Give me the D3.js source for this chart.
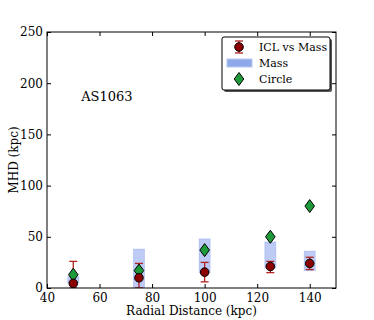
<!DOCTYPE html>
<html>
<head>
<meta charset="utf-8">
<script src="https://cdn.jsdelivr.net/npm/d3@7"></script>
<style>
  body { margin: 0; background: #fff; }
  svg text { font-family: "DejaVu Serif", serif; fill: #000; }
</style>
</head>
<body>
<div id="chart"></div>
<script>
// radial distance of each bin (kpc)
var radius = [50, 75, 100, 125, 140];
// ICL vs Mass: value and error bar ends
var iclValue = [4.5, 10, 15.5, 21, 24];
var iclLow = [0, 0, 6, 15, 18];
var iclHigh = [26, 24, 25, 26, 30];
// Mass: range shown as a box
var massLow = [5, 0, 15, 19.5, 17];
var massHigh = [11, 38, 48, 45, 36];
// Circle
var circleValue = [13, 17, 37, 50, 80];

var xTicks = [40, 60, 80, 100, 120, 140];
var yTicks = [0, 50, 100, 150, 200, 250];

var margin = {top: 32, right: 38, bottom: 32, left: 47};
var totalW = 374, totalH = 320;
var width = totalW - margin.left - margin.right;
var height = totalH - margin.top - margin.bottom;

var x = d3.scaleLinear().domain([40, 150]).range([0, width]);
var y = d3.scaleLinear().domain([0, 250]).range([height, 0]);

var svg = d3.select("#chart").append("svg")
    .attr("width", totalW)
    .attr("height", totalH)
  .append("g")
    .attr("transform", "translate(" + margin.left + "," + margin.top + ")");

// clip marks to the axes box
svg.append("clipPath").attr("id", "clip")
  .append("rect").attr("width", width).attr("height", height);

var plot = svg.append("g").attr("clip-path", "url(#clip)");

// mass boxes
plot.selectAll(".mass")
    .data(radius)
    .enter().append("rect")
    .attr("class", "mass")
    .attr("x", function(d) { return x(d - 2.1); })
    .attr("width", function(d) { return x(d + 2.1) - x(d - 2.1); })
    .attr("y", function(d, i) { return y(massHigh[i]); })
    .attr("height", function(d, i) { return y(massLow[i]) - y(massHigh[i]); })
    .attr("fill", "#4169e1")
    .attr("fill-opacity", 0.35)
    .attr("stroke", "#4169e1")
    .attr("stroke-opacity", 0.2)
    .attr("stroke-width", 1);

// ICL error bars
var errColor = "#b22222";
var err = plot.selectAll(".err")
    .data(radius)
    .enter().append("g")
    .attr("class", "err");

err.append("line")
    .attr("x1", function(d) { return x(d); })
    .attr("x2", function(d) { return x(d); })
    .attr("y1", function(d, i) { return y(iclLow[i]); })
    .attr("y2", function(d, i) { return y(iclHigh[i]); })
    .attr("stroke", errColor).attr("stroke-width", 1.3);

err.append("line")
    .attr("x1", function(d) { return x(d) - 4; })
    .attr("x2", function(d) { return x(d) + 4; })
    .attr("y1", function(d, i) { return y(iclHigh[i]); })
    .attr("y2", function(d, i) { return y(iclHigh[i]); })
    .attr("stroke", errColor).attr("stroke-width", 1.3);

err.append("line")
    .attr("x1", function(d) { return x(d) - 4; })
    .attr("x2", function(d) { return x(d) + 4; })
    .attr("y1", function(d, i) { return y(iclLow[i]); })
    .attr("y2", function(d, i) { return y(iclLow[i]); })
    .attr("stroke", errColor).attr("stroke-width", 1.3);

// diamond path helper
function diamond(cx, cy) {
  return "M" + cx + "," + (cy - 6.5) + "L" + (cx + 4.8) + "," + cy +
         "L" + cx + "," + (cy + 6.5) + "L" + (cx - 4.8) + "," + cy + "Z";
}

// circle markers (green diamonds)
svg.selectAll(".circ")
    .data(radius)
    .enter().append("path")
    .attr("class", "circ")
    .attr("d", function(d, i) { return diamond(x(d), y(circleValue[i])); })
    .attr("fill", "#1f9a3a")
    .attr("stroke", "#000")
    .attr("stroke-width", 1);

// ICL points
svg.selectAll(".icl")
    .data(radius)
    .enter().append("circle")
    .attr("class", "icl")
    .attr("cx", function(d) { return x(d); })
    .attr("cy", function(d, i) { return y(iclValue[i]); })
    .attr("r", 4.3)
    .attr("fill", "#8b0000")
    .attr("stroke", "#000")
    .attr("stroke-width", 1);

// axes, matplotlib classic style: inward ticks on all sides
function styleAxis(g) {
  g.select(".domain").remove();
  g.selectAll(".tick line").attr("stroke", "#000");
  g.selectAll(".tick text").style("font-size", "12px");
}

svg.append("g")
    .attr("transform", "translate(0," + height + ")")
    .call(d3.axisBottom(x).tickValues(xTicks).tickSize(-4).tickPadding(5))
    .call(styleAxis);

svg.append("g")
    .call(d3.axisTop(x).tickValues(xTicks).tickSize(-4).tickFormat(""))
    .call(styleAxis);

svg.append("g")
    .call(d3.axisLeft(y).tickValues(yTicks).tickSize(-4).tickPadding(4))
    .call(styleAxis);

svg.append("g")
    .attr("transform", "translate(" + width + ",0)")
    .call(d3.axisRight(y).tickValues(yTicks).tickSize(-4).tickFormat(""))
    .call(styleAxis);

svg.append("rect")
    .attr("width", width).attr("height", height)
    .attr("fill", "none").attr("stroke", "#000").attr("stroke-width", 1);

// axis labels
svg.append("text")
    .attr("x", width / 2).attr("y", height + 27)
    .attr("text-anchor", "middle")
    .style("font-size", "12px")
    .text("Radial Distance (kpc)");

svg.append("text")
    .attr("transform", "translate(-29," + (height / 2) + ") rotate(-90)")
    .attr("text-anchor", "middle")
    .style("font-size", "12px")
    .text("MHD (kpc)");

svg.append("text")
    .attr("x", x(53)).attr("y", y(183))
    .style("font-size", "13px")
    .text("AS1063");

// legend
var lg = svg.append("g").attr("transform", "translate(175,5)");
var lgW = 108, lgH = 53;
lg.append("rect")
    .attr("x", 2).attr("y", 2).attr("width", lgW).attr("height", lgH)
    .attr("rx", 2).attr("fill", "#555");
lg.append("rect")
    .attr("width", lgW).attr("height", lgH)
    .attr("rx", 2).attr("fill", "#fff").attr("stroke", "#000").attr("stroke-width", 1);

var names = ["ICL vs Mass", "Mass", "Circle"];
var rowY = [10, 26, 42];

// ICL entry
lg.append("line").attr("x1", 17).attr("x2", 17).attr("y1", rowY[0] - 6).attr("y2", rowY[0] + 6)
    .attr("stroke", errColor).attr("stroke-width", 1.3);
lg.append("line").attr("x1", 13).attr("x2", 21).attr("y1", rowY[0] - 6).attr("y2", rowY[0] - 6)
    .attr("stroke", errColor).attr("stroke-width", 1.3);
lg.append("line").attr("x1", 13).attr("x2", 21).attr("y1", rowY[0] + 6).attr("y2", rowY[0] + 6)
    .attr("stroke", errColor).attr("stroke-width", 1.3);
lg.append("circle").attr("cx", 17).attr("cy", rowY[0]).attr("r", 4.3)
    .attr("fill", "#8b0000").attr("stroke", "#000");

// Mass entry
lg.append("rect").attr("x", 5).attr("y", rowY[1] - 4).attr("width", 25).attr("height", 8)
    .attr("fill", "#8fa8ea").attr("stroke", "#b8c8f0");

// Circle entry
lg.append("path").attr("d", diamond(17, rowY[2]))
    .attr("fill", "#1f9a3a").attr("stroke", "#000");

lg.selectAll(".lbl")
    .data(names)
    .enter().append("text")
    .attr("class", "lbl")
    .attr("x", 37)
    .attr("y", function(d, i) { return rowY[i] + 4; })
    .style("font-size", "11px")
    .text(function(d) { return d; });
</script>
</body>
</html>
